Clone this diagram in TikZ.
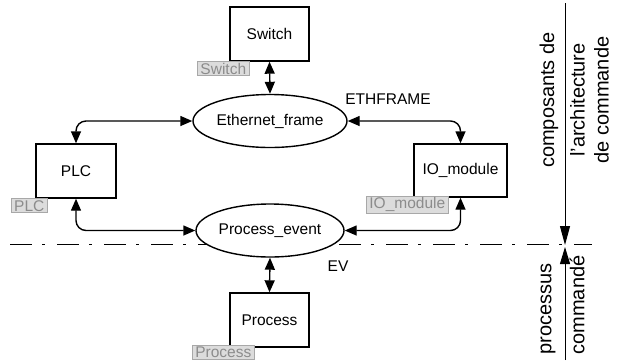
\documentclass[tikz,border=0pt]{standalone}
\usepackage{fontspec}
\setmainfont{Liberation Sans}
\usetikzlibrary{arrows.meta,shapes.geometric}
\definecolor{tagfill}{HTML}{DCDCDC}
\definecolor{tagline}{HTML}{A8A8A8}
\definecolor{tagtext}{HTML}{8C8C8C}
\begin{document}
\begin{tikzpicture}[x=1pt,y=-1pt,
  comp/.style={draw,line width=1.4pt,fill=white,minimum width=79pt,minimum height=54pt,inner sep=0pt,font=\fontsize{15.5}{18}\selectfont},
  flow/.style={draw,ellipse,line width=1.4pt,fill=white,inner sep=0pt,font=\fontsize{15.5}{18}\selectfont},
  tag/.style={draw=tagline,fill=tagfill,text=tagtext,line width=0.8pt,inner xsep=3pt,inner ysep=1.5pt,font=\fontsize{15.5}{18}\selectfont},
  link/.style={line width=1.4pt,rounded corners=10pt,{Triangle[length=12pt,width=10pt]}-{Triangle[length=12pt,width=10pt]}},
  lbl/.style={font=\fontsize{15.5}{18}\selectfont},
  side/.style={rotate=90,align=center,inner sep=0pt,font=\fontsize{20}{24}\selectfont}]
\useasboundingbox (0,0) rectangle (617,360);
%\draw[step=10pt,gray,very thin] (0,0) grid (617,360);
% separation between architecture and process
\draw[line width=1pt,dash pattern=on 22pt off 10pt on 3pt off 12pt] (10,244) -- (592,244);
% components
\node[comp] (switch) at (269.5,34) {Switch};
\node[comp,minimum width=80pt] (plc) at (76,171) {PLC};
\node[comp,minimum width=93pt,minimum height=53pt] (io) at (460.5,170.5) {IO\_module};
\node[comp] (process) at (269.5,320) {Process};
\node[tag] (switchtag) at ([shift={(-6,7)}]switch.south west) {Switch};
\node[tag] (plctag) at ([shift={(-6,7)}]plc.south west) {PLC};
\node[tag] (iotag) at ([shift={(-6,7)}]io.south west) {IO\_module};
\node[tag] (processtag) at ([shift={(-6,5)}]process.south west) {Process};
% flows
\node[flow,minimum width=154pt,minimum height=53pt] (eth) at (270,121) {Ethernet\_frame};
\node[flow,minimum width=148pt,minimum height=53pt] (pev) at (270,230.5) {Process\_event};
\node[lbl] (ethname) at (388,99) {ETHFRAME};
\node[lbl] (evname) at (338,266) {EV};
\draw[link] (switch.south) -- (eth.north);
\draw[link] (plc.north) |- (eth.west);
\draw[link] (io.north) |- (eth.east);
\draw[link] (plc.south) |- (pev.west);
\draw[link] (io.south) |- (pev.east);
\draw[link] (pev.south) -- (process.north);
% levels on the right
\coordinate (atop) at (565,3);
\coordinate (adown) at (565,245);
\coordinate (aup) at (565,247);
\coordinate (abot) at (565,360);
\draw[line width=1pt,-{Triangle[length=19pt,width=10pt]}] (atop) -- (adown);
\draw[line width=1pt,-{Triangle[length=17pt,width=10pt]}] (abot) -- (aup);
\node[side] (archa) at (549,100) {composants de};
\node[side] (archb) at (589.5,100) {l'architecture\\de commande};
\node[side] (proca) at (548,309) {processus};
\node[side] (procb) at (577,305) {commandé};
\end{tikzpicture}
\end{document}
